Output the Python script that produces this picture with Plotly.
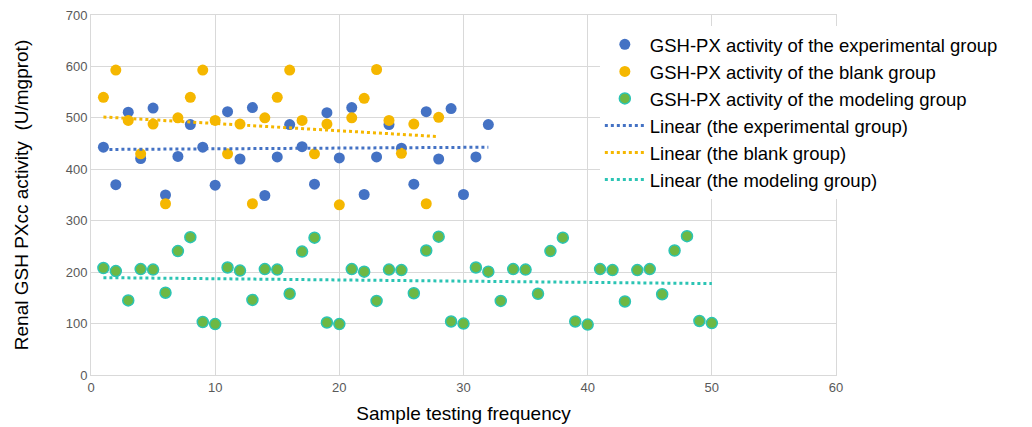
import numpy as np
import plotly.graph_objects as go

# Data
exp_x = list(range(1, 33))
exp_y = [443, 370, 511, 421, 519, 350, 425, 487,
         443, 369, 512, 420, 520, 349, 424, 487,
         444, 371, 510, 422, 520, 351, 424, 487,
         441, 371, 512, 420, 518, 351, 424, 487]

blank_x = list(range(1, 29))
blank_y = [540, 593, 495, 430, 488, 333, 500,
           540, 593, 495, 430, 488, 333, 500,
           540, 593, 495, 430, 488, 331, 500,
           538, 594, 495, 431, 488, 333, 501]

model_x = list(range(1, 51))
model_y = [208, 202, 145, 206, 205, 160, 241, 268, 103, 99,
           209, 203, 146, 206, 205, 158, 240, 267, 102, 99,
           206, 201, 144, 205, 204, 159, 242, 269, 104, 100,
           209, 201, 144, 206, 205, 158, 241, 267, 104, 98,
           206, 204, 143, 204, 206, 157, 242, 270, 105, 101]

names_pts = ["GSH-PX activity of the experimental group",
             "GSH-PX activity of the blank group",
             "GSH-PX activity of the modeling group"]
names_lin = ["Linear (the experimental group)",
             "Linear (the blank group)",
             "Linear (the modeling group)"]

BLUE = "#4472C4"
GOLD = "#F5B700"
GREEN = "#6DB844"
TEAL = "#2BC4B4"

fig = go.Figure()

series = [(exp_x, exp_y, BLUE, BLUE, BLUE),
          (blank_x, blank_y, GOLD, GOLD, GOLD),
          (model_x, model_y, GREEN, TEAL, TEAL)]

for (xs, ys, fill, edge, _), nm in zip(series, names_pts):
    fig.add_trace(go.Scatter(
        x=xs, y=ys, mode="markers", name=nm,
        marker=dict(size=11, color=fill, line=dict(color=edge, width=1.5 if edge != fill else 0)),
    ))

for (xs, ys, _, _, lc), nm in zip(series, names_lin):
    k, b = np.polyfit(xs, ys, 1)
    xe = np.array([xs[0], xs[-1]], dtype=float)
    fig.add_trace(go.Scatter(
        x=xe, y=k * xe + b, mode="lines", name=nm,
        line=dict(color=lc, width=3, dash="dot"),
    ))

fig.update_layout(
    width=1032, height=427,
    margin=dict(l=91, r=196, t=15, b=52, autoexpand=False),
    paper_bgcolor="white", plot_bgcolor="white",
    font=dict(family="Liberation Sans, Arial, sans-serif", color="#000"),
    legend=dict(x=0.683, y=0.97, xanchor="left", yanchor="top",
                bgcolor="rgba(255,255,255,1)", font=dict(size=18.5, color="#000"),
                itemwidth=40, tracegroupgap=0),
    showlegend=True,
)
fig.update_xaxes(range=[0, 60], dtick=10, showgrid=True, gridcolor="#D9D9D9",
                 showline=True, linecolor="#D9D9D9", mirror=True, zeroline=False,
                 ticks="", tickfont=dict(size=13, color="#595959"), automargin=False,
                 title=dict(text="Sample testing frequency", font=dict(size=19, color="#000"), standoff=13))
fig.update_yaxes(range=[0, 700], dtick=100, showgrid=True, gridcolor="#D9D9D9",
                 showline=True, linecolor="#D9D9D9", mirror=True, zeroline=False,
                 ticks="", tickfont=dict(size=13, color="#595959"), automargin=False,
                 title=dict(text="Renal GSH PXcc activity  (U/mgprot)", font=dict(size=19, color="#000"), standoff=32))

fig.write_html("out.html", config={"displayModeBar": False},
               post_script="document.body.style.margin='0px';")
